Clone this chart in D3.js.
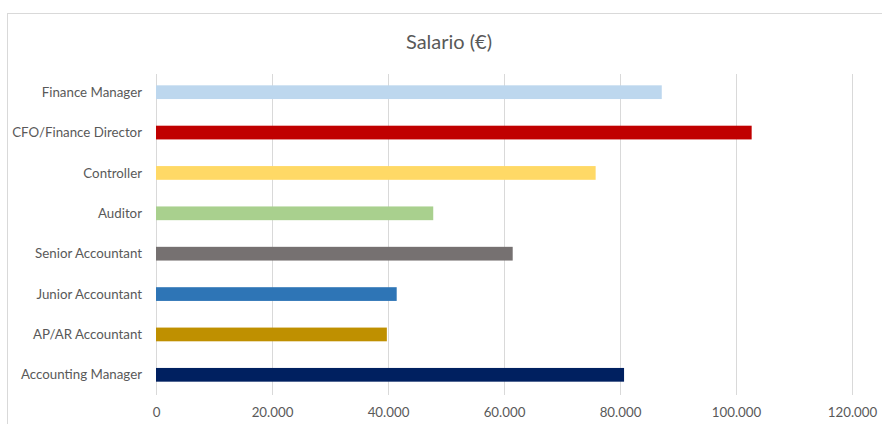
<!DOCTYPE html>
<html>
<head>
<meta charset="utf-8">
<script src="https://cdn.jsdelivr.net/npm/d3@7"></script>
<style>
  body { margin: 0; background: #fff; }
  text { font-family: Lato, "Open Sans", sans-serif; fill: #595959; }
</style>
</head>
<body>
<div id="chart"></div>
<script>
// Chart data
let roles = ["Finance Manager", "CFO/Finance Director", "Controller", "Auditor",
  "Senior Accountant", "Junior Accountant", "AP/AR Accountant", "Accounting Manager"]
let salaries = [87200, 102700, 75800, 47800, 61500, 41500, 39800, 80700]
let barColours = ["#bdd7ee", "#c00000", "#ffd966", "#a9d08e",
  "#767171", "#2e75b6", "#bf9000", "#002060"]
let xTicks = [0, 20000, 40000, 60000, 80000, 100000, 120000]

let width = 882
let height = 424
let margin = { top: 72, right: 30, bottom: 29, left: 156 }

let svg = d3.select("#chart").append("svg")
    .attr("width", width)
    .attr("height", height)

// chart frame
svg.append("rect")
    .attr("x", 7.5).attr("y", 13.5)
    .attr("width", width + 20).attr("height", height + 20)
    .attr("fill", "none")
    .attr("stroke", "#d9d9d9")

svg.append("text")
    .attr("x", 449).attr("y", 49)
    .attr("text-anchor", "middle")
    .style("font-size", "20px")
    .text("Salario (€)")

let x = d3.scaleLinear()
    .domain([0, 120000])
    .range([margin.left, 852])

let y = d3.scaleBand()
    .domain(roles)
    .range([margin.top, height - margin.bottom])
    .paddingInner(0.66)
    .paddingOuter(0.33)

let euro = d3.formatLocale({ decimal: ",", thousands: ".", grouping: [3], currency: ["", "€"] })

// gridlines
svg.append("g").selectAll("line")
    .data(xTicks)
    .enter().append("line")
    .attr("x1", (d) => Math.round(x(d)) + 0.5)
    .attr("x2", (d) => Math.round(x(d)) + 0.5)
    .attr("y1", margin.top + 2)
    .attr("y2", height - margin.bottom)
    .attr("stroke", "#d9d9d9")

// bars
svg.append("g").selectAll("rect")
    .data(roles)
    .enter().append("rect")
    .attr("x", x(0))
    .attr("y", (d) => y(d))
    .attr("width", (d, i) => x(salaries[i]) - x(0))
    .attr("height", y.bandwidth())
    .attr("fill", (d, i) => barColours[i])

// category labels
svg.append("g").selectAll("text")
    .data(roles)
    .enter().append("text")
    .attr("x", margin.left - 14)
    .attr("y", (d) => y(d) + y.bandwidth() / 2)
    .attr("dy", "0.35em")
    .attr("text-anchor", "end")
    .style("font-size", "13.3px")
    .text((d) => d)

// x axis labels
let xAxis = svg.append("g")
    .attr("transform", "translate(0," + (height - margin.bottom) + ")")
    .call(d3.axisBottom(x).tickValues(xTicks).tickSize(0).tickPadding(13).tickFormat(euro.format(",")))

xAxis.select(".domain").remove()
xAxis.selectAll("text")
    .style("font-size", "13.3px")
    .style("font-family", "Lato, 'Open Sans', sans-serif")
    .attr("fill", "#595959")
</script>
</body>
</html>
